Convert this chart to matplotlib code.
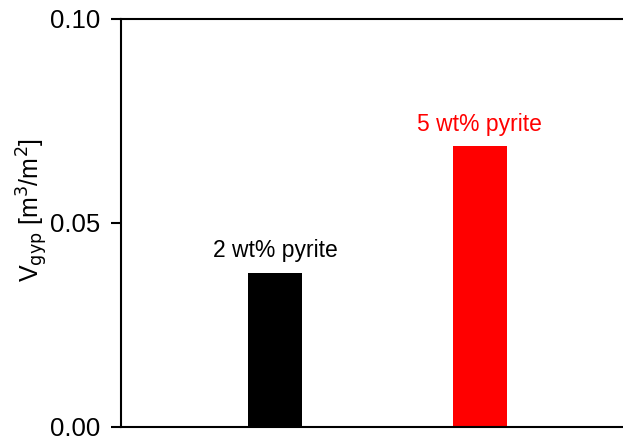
import matplotlib
matplotlib.use("Agg")
import matplotlib.pyplot as plt

plt.rcParams['font.family'] = ['Liberation Sans', 'DejaVu Sans']

# data
labels = ['2 wt% pyrite', '5 wt% pyrite']
positions = [1, 2]
v_gyp = [0.0378, 0.0689]
colors = ['black', 'red']

fig = plt.figure(figsize=(6.23, 4.38), dpi=100)
ax = fig.add_axes([121 / 623, (438 - 427) / 438, 1 - 121 / 623, (427 - 19) / 438])

ax.bar(positions, v_gyp, width=0.263, color=colors)

for x, v, lab, c in zip(positions, v_gyp, labels, colors):
    ax.annotate(lab, (x, v), xytext=(0, 11), textcoords='offset points',
                ha='center', va='baseline', fontsize=16.5, color=c)

ax.set_xlim(0.249, 2.698)
ax.set_ylim(0, 0.10)
ax.set_yticks([0.00, 0.05, 0.10])
ax.set_yticklabels(['0.00', '0.05', '0.10'])
ax.set_xticks([])
ax.tick_params(axis='y', direction='out', length=7, width=1.5, labelsize=18.5, pad=8)
for s in ['left', 'bottom', 'top']:
    ax.spines[s].set_linewidth(1.5)
ax.spines['right'].set_visible(False)

ax.set_ylabel(r'V$_{\mathrm{gyp}}$ [m$^{3}$/m$^{2}$]', fontsize=18)
ax.yaxis.set_label_coords(-0.141, 0.532)

fig.savefig('out.png', dpi=100)
